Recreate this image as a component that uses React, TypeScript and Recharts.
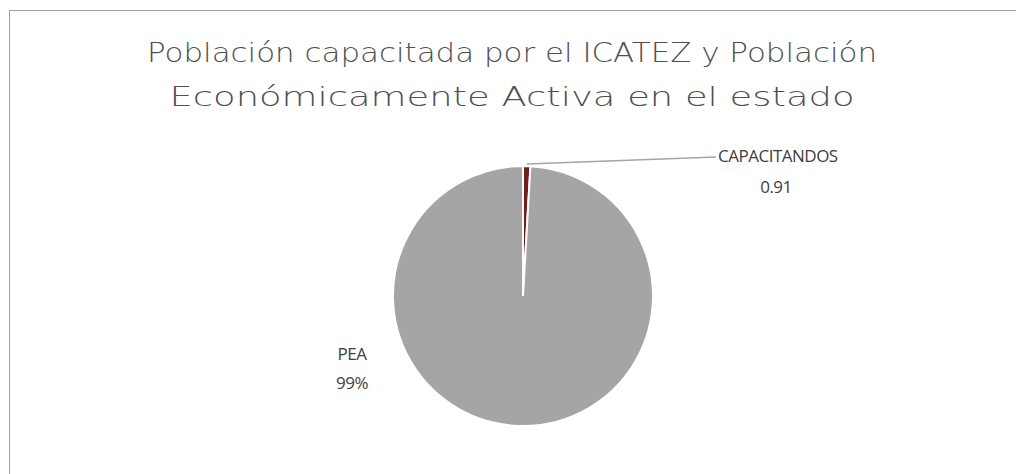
import { PieChart, Pie, Cell } from "recharts"

const categories = ["CAPACITANDOS", "PEA"]
const values = [0.91, 99.09]
const colors = ["#6E1F1F", "#A5A5A5"]

const data = categories.map((name, i) => ({ name, value: values[i] }))

const titleLines = [
  "Población capacitada por el ICATEZ y Población",
  "Económicamente Activa en el estado",
]
// widths of the two title lines as measured in the original
const titleWidths = [730, 685]

const labelFont = "'Open Sans', sans-serif"

const renderLabel = (props: any) => {
  const { cx, cy, midAngle, outerRadius, name, value, percent } = props
  const RAD = Math.PI / 180
  const textStyle = {
    fill: "#404040",
    fontSize: 17,
    fontFamily: labelFont,
    fontWeight: 400,
    letterSpacing: -0.5,
  }
  if (name === "CAPACITANDOS") {
    const sx = cx + outerRadius * Math.cos(-midAngle * RAD)
    const sy = cy + outerRadius * Math.sin(-midAngle * RAD) - 2
    const ex = cx + 193
    const ey = cy - 139
    return (
      <g>
        <line x1={sx} y1={sy} x2={ex} y2={ey} stroke="#A5A5A5" strokeWidth={1.5} />
        <text x={ex + 2} y={ey - 1} dy="0.35em" style={textStyle}>
          {name}
        </text>
        <text x={cx + 253} y={cy - 109} dy="0.35em" textAnchor="middle" style={textStyle}>
          {value.toFixed(2)}
        </text>
      </g>
    )
  }
  return (
    <g>
      <text x={cx - 171} y={cy + 58} dy="0.35em" textAnchor="middle" style={textStyle}>
        {name}
      </text>
      <text x={cx - 171} y={cy + 87} dy="0.35em" textAnchor="middle" style={textStyle}>
        {Math.round(percent * 100)}%
      </text>
    </g>
  )
}

export default function App() {
  return (
    <div
      style={{
        position: "relative",
        marginLeft: 1,
        marginTop: 2,
        width: 1030,
        height: 480,
        border: "1px solid #A0A0A0",
        background: "#fff",
      }}
    >
      <svg
        width={1014}
        height={120}
        style={{ position: "absolute", left: 0, top: 0 }}
      >
        {titleLines.map((t, i) => (
          <text
            key={t}
            x={502}
            y={51 + i * 44}
            textAnchor="middle"
            textLength={titleWidths[i]}
            lengthAdjust="spacingAndGlyphs"
            fill="#4F4F4F"
            fontFamily="'DejaVu Sans', sans-serif"
            fontWeight={200}
            fontSize={27}
          >
            {t}
          </text>
        ))}
      </svg>
      <div style={{ position: "absolute", left: 0, top: 0 }}>
        <PieChart width={1014} height={463}>
          <Pie
            data={data}
            dataKey="value"
            nameKey="name"
            cx={508}
            cy={280}
            outerRadius={130}
            startAngle={90}
            endAngle={-270}
            stroke="#ffffff"
            strokeWidth={2}
            label={renderLabel}
            labelLine={false}
            isAnimationActive={false}
          >
            {data.map((d, i) => (
              <Cell key={d.name} fill={colors[i]} />
            ))}
          </Pie>
        </PieChart>
      </div>
    </div>
  )
}
